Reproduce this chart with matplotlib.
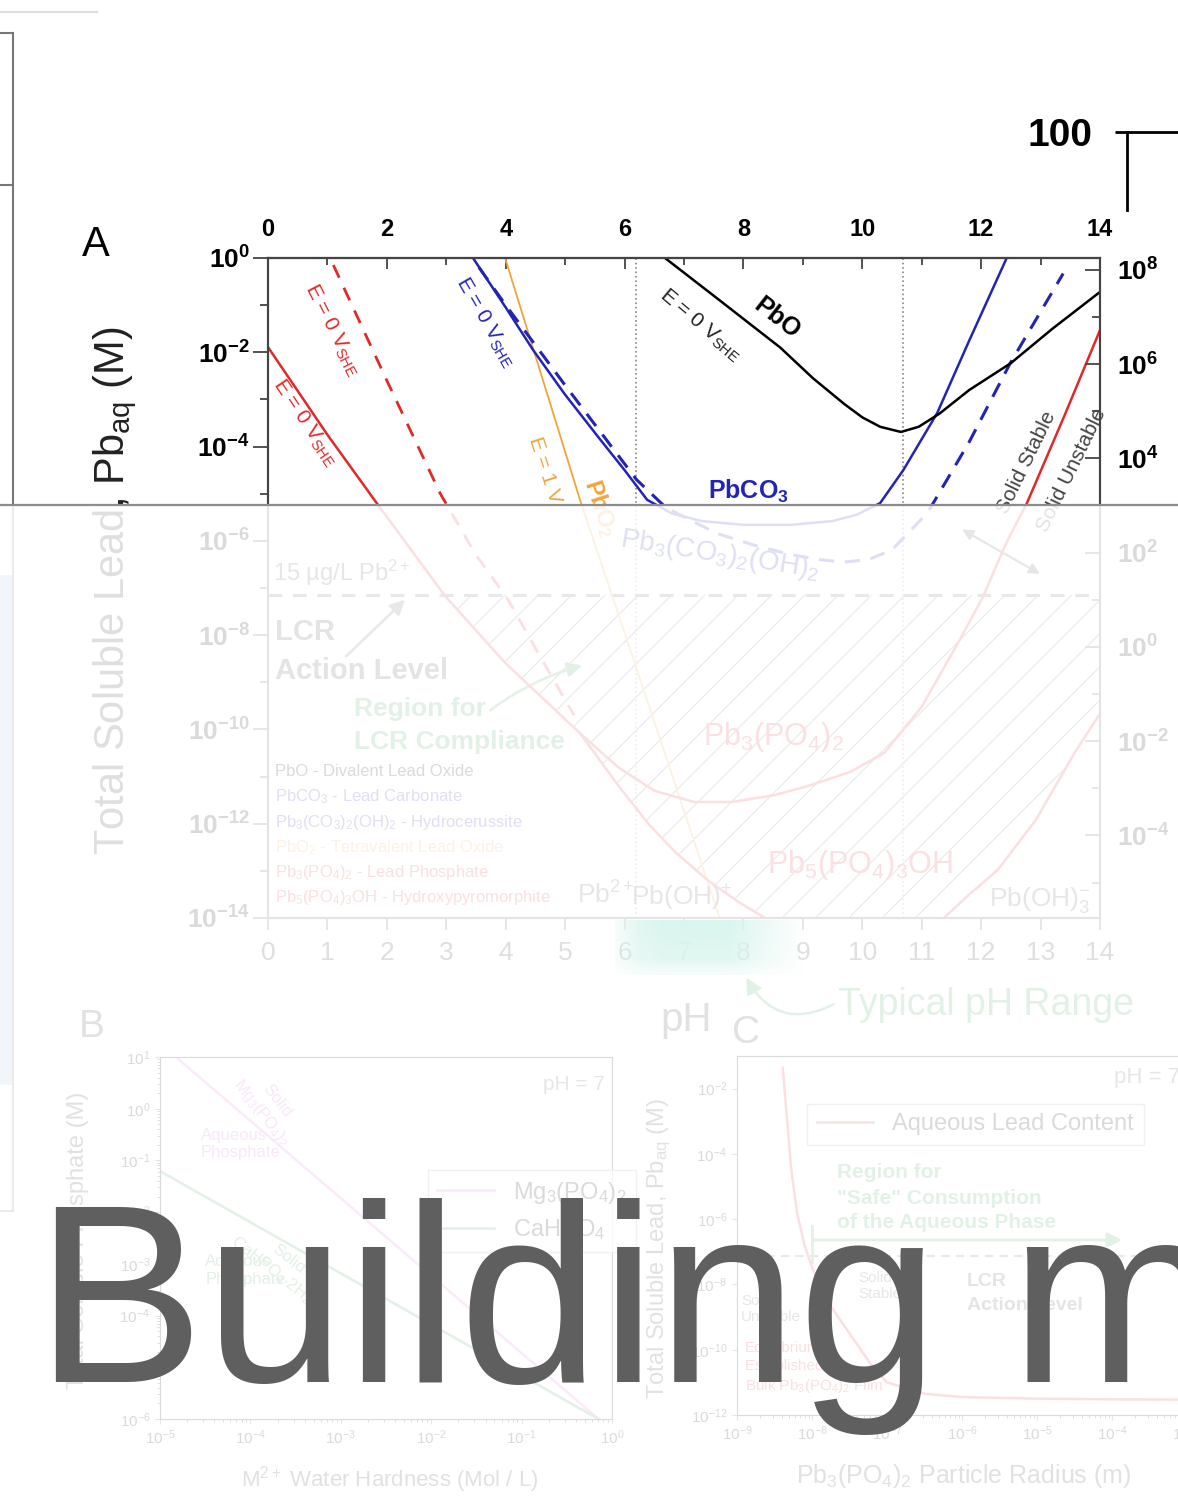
import numpy as np
import matplotlib
matplotlib.use("Agg")
import matplotlib.pyplot as plt
from matplotlib.ticker import FixedLocator, FuncFormatter, NullFormatter
from matplotlib.patches import Rectangle, FancyArrowPatch
from matplotlib.lines import Line2D

plt.rcParams['font.family'] = ['Liberation Sans', 'DejaVu Sans']
plt.rcParams['mathtext.fontset'] = 'custom'
plt.rcParams['mathtext.rm'] = 'Liberation Sans'
plt.rcParams['mathtext.it'] = 'Liberation Sans:italic'
plt.rcParams['mathtext.bf'] = 'Liberation Sans:bold'
plt.rcParams['hatch.linewidth'] = 0.9

W, H = 1178, 1497

# ---- panel A: total soluble lead (log10 M) against pH ----
pbo_ph = [6.68, 7.5, 8.62, 9.17, 9.7, 10.0, 10.3, 10.65, 10.95, 11.3, 11.8, 12.5, 13.2, 14.0]
pbo_log = [0.0, -0.8, -1.9, -2.55, -3.1, -3.38, -3.58, -3.69, -3.58, -3.3, -2.8, -2.23, -1.5, -0.72]

pbco3_ph = [3.45, 4.0, 4.46, 5.0, 5.59, 6.0, 6.38, 6.8, 7.3, 8.0, 8.8, 9.5, 9.9, 10.3, 10.69, 11.26, 11.8, 12.43]
pbco3_log = [0.0, -1.05, -1.95, -2.9, -3.85, -4.5, -5.13, -5.42, -5.58, -5.66, -5.66, -5.58, -5.45, -5.2, -4.5, -3.29, -1.75, 0.0]

hydro_ph = [3.55, 4.0, 4.5, 5.0, 5.6, 6.2, 6.7, 7.55, 8.2, 8.83, 9.3, 9.68, 10.1, 10.5, 11.1, 11.8, 12.49, 13.38]
hydro_log = [-0.2, -1.0, -1.85, -2.7, -3.7, -4.7, -5.3, -5.84, -6.1, -6.3, -6.4, -6.45, -6.4, -6.19, -5.4, -3.9, -2.23, -0.33]

pb3po4_ph = [0.0, 1.0, 1.83, 2.98, 4.0, 5.25, 5.89, 6.5, 7.17, 7.8, 8.5, 9.09, 9.8, 10.37, 11.0, 11.64, 12.03, 12.42, 12.77, 13.4, 14.0]
pb3po4_log = [-1.89, -3.75, -5.2, -7.17, -8.6, -10.08, -10.8, -11.3, -11.54, -11.54, -11.4, -11.2, -10.9, -10.5, -9.52, -8.1, -7.19, -6.05, -5.2, -3.35, -1.53]

pb3po4_e0_ph = [1.1, 2.0, 2.9, 3.5, 4.04, 4.6, 5.15]
pb3po4_e0_log = [-0.15, -2.6, -5.0, -6.3, -7.25, -8.5, -9.7]

pbo2_ph = [3.99, 5.25, 6.04, 7.6]
pbo2_log = [0.0, -5.13, -8.1, -14.0]

hpm_lo_ph = [5.25, 5.9, 6.4, 6.85, 7.4, 7.94, 8.5]
hpm_lo_log = [-10.08, -11.2, -12.0, -12.6, -13.2, -13.68, -14.1]
hpm_hi_ph = [11.2, 11.8, 12.28, 12.92, 13.57, 14.0]
hpm_hi_log = [-14.2, -13.5, -12.98, -11.92, -10.5, -9.66]

species_bounds = [6.2, 10.69]          # Pb2+/Pb(OH)+ and Pb(OH)+/Pb(OH)3- boundaries
lcr_level = 15e-6 / 207.2              # 15 ug/L as mol/L

legend_lines = [
    ('PbO - Divalent Lead Oxide', 'black'),
    (r'PbCO$_3$ - Lead Carbonate', '#2424b4'),
    (r'Pb$_3$(CO$_3$)$_2$(OH)$_2$ - Hydrocerussite', '#2424b4'),
    (r'PbO$_2$ - Tetravalent Lead Oxide', '#f0a43a'),
    (r'Pb$_3$(PO$_4$)$_2$ - Lead Phosphate', '#e02a2a'),
    (r'Pb$_5$(PO$_4$)$_3$OH - Hydroxypyromorphite', '#e02a2a'),
]

# ---- panel B: phosphate vs water hardness ----
hard_mg = [1.5e-5, 0.71]
phos_mg = [10.0, 1e-6]
hard_ca = [1e-5, 0.71]
phos_ca = [0.062, 1e-6]

# ---- panel C: soluble lead vs particle radius ----
radius_log = [-8.39, -8.33, -8.28, -8.2, -8.1, -8.0, -7.8, -7.5, -7.2, -7.0, -6.5, -6.0, -5.0, -4.0, -3.0]
lead_c_log = [-1.36, -3.0, -4.4, -5.8, -6.8, -7.47, -8.5, -9.5, -10.5, -11.0, -11.35, -11.45, -11.5, -11.52, -11.53]

RED = '#e02a2a'
BLUE = '#2424b4'
ORANGE = '#f0a43a'
GREEN = '#36a355'
DARK = '#444444'


def fbox(x0, y0, x1, y1):
    return [x0 / W, 1 - y1 / H, (x1 - x0) / W, (y1 - y0) / H]


def ftext(x, y, s, **kw):
    return fig.text(x / W, 1 - y / H, s, **kw)


def p10(vals):
    return 10.0 ** np.asarray(vals)


def bold_pow(v, pos):
    return r'$\mathbf{10^{%d}}$' % int(round(np.log10(v)))


fig = plt.figure(figsize=(W / 100, H / 100), dpi=100)

# ---------- panel A ----------
ax = fig.add_axes(fbox(268, 258, 1100, 918))
ax.set_xlim(0, 14)
ax.set_yscale('log')
ax.set_ylim(1e-14, 1)

for b in species_bounds:
    ax.axvline(b, color='#888888', ls=':', lw=1.2, zorder=1)

# hatched compliance region below the action level
poly_ph = [p for p in pb3po4_ph if 2.98 <= p <= 5.25] + hpm_lo_ph[1:] + hpm_hi_ph + [14.0, 2.98]
poly_log = ([l for p, l in zip(pb3po4_ph, pb3po4_log) if 2.98 <= p <= 5.25]
            + hpm_lo_log[1:] + hpm_hi_log + [np.log10(lcr_level)] * 2)
ax.fill(poly_ph, p10(poly_log), facecolor='none', edgecolor='#7a7a7a', hatch='/', lw=0, zorder=1)

ax.axhline(lcr_level, color='#666666', ls=(0, (4.5, 3.5)), lw=2.2, zorder=2)

ax.plot(pbo2_ph, p10(pbo2_log), color=ORANGE, lw=1.3, zorder=3)
ax.plot(pb3po4_e0_ph, p10(pb3po4_e0_log), color=RED, lw=2.0, ls=(0, (5, 4)), zorder=3)
ax.plot(pb3po4_ph, p10(pb3po4_log), color=RED, lw=1.8, zorder=4)
ax.plot(hpm_lo_ph, p10(hpm_lo_log), color=RED, lw=1.8, zorder=4)
ax.plot(hpm_hi_ph, p10(hpm_hi_log), color=RED, lw=1.8, zorder=4)
ax.plot(hydro_ph, p10(hydro_log), color=BLUE, lw=2.2, ls=(0, (5, 3.5)), zorder=4)
ax.plot(pbco3_ph, p10(pbco3_log), color=BLUE, lw=1.8, zorder=5)
ax.plot(pbo_ph, p10(pbo_log), color='black', lw=1.8, zorder=5)

for s in ax.spines.values():
    s.set_color(DARK)
    s.set_linewidth(1.5)

ax.set_xticks(range(15))
ax.tick_params(axis='x', direction='out', length=8.5, width=1.3, color=DARK,
               labelsize=19, labelcolor='#222222', pad=8)
ax.yaxis.set_major_locator(FixedLocator([10.0 ** k for k in range(-14, 1, 2)]))
ax.yaxis.set_minor_locator(FixedLocator([10.0 ** k for k in range(-13, 0, 2)]))
ax.yaxis.set_major_formatter(FuncFormatter(bold_pow))
ax.yaxis.set_minor_formatter(NullFormatter())
ax.tick_params(axis='y', which='major', direction='out', length=11, width=1.3, color=DARK,
               labelsize=19, pad=2)
ax.tick_params(axis='y', which='minor', direction='out', length=6, width=1.3, color=DARK)

top = ax.secondary_xaxis('top')
top.set_xticks(range(0, 15, 2))
top.xaxis.set_minor_locator(FixedLocator(range(1, 14, 2)))
top.tick_params(axis='x', which='major', direction='in', length=8, width=1.3, color=DARK,
                labelsize=17, pad=12)
top.tick_params(axis='x', which='minor', direction='in', length=5, width=1.3, color=DARK)
for t in top.get_xticklabels():
    t.set_fontweight('bold')
top.spines['top'].set_color(DARK)
top.spines['top'].set_linewidth(1.5)

rax = ax.twinx()
rax.set_yscale('log')
rax.set_ylim(10 ** -5.75, 10 ** 8.25)
rax.yaxis.set_major_locator(FixedLocator([10.0 ** k for k in range(-4, 9, 2)]))
rax.yaxis.set_minor_locator(FixedLocator([10.0 ** k for k in range(-5, 8, 2)]))
rax.yaxis.set_major_formatter(FuncFormatter(bold_pow))
rax.yaxis.set_minor_formatter(NullFormatter())
rax.tick_params(axis='y', which='major', direction='in', length=11, width=1.3, color=DARK,
                labelsize=19, pad=12)
rax.tick_params(axis='y', which='minor', direction='in', length=6, width=1.3, color=DARK)
for s in rax.spines.values():
    s.set_color(DARK)
    s.set_linewidth(1.5)

# line labels
lab = dict(ha='center', va='center', rotation_mode='anchor')
ax.text(0.62, 10 ** -3.5, r'E = 0 V$_{\rm SHE}$', color=RED, fontsize=15, rotation=-56, **lab)
ax.text(1.09, 10 ** -1.53, r'E = 0 V$_{\rm SHE}$', color=RED, fontsize=15, rotation=-63, **lab)
ax.text(3.65, 10 ** -1.36, r'E = 0 V$_{\rm SHE}$', color=BLUE, fontsize=15, rotation=-60, **lab)
ax.text(4.66, 10 ** -4.5, 'E = 1 V', color=ORANGE, fontsize=15, rotation=-72, **lab)
ax.text(5.6, 10 ** -5.3, r'$\mathbf{PbO_2}$', color=ORANGE, fontsize=17, rotation=-72, **lab)
ax.text(7.27, 10 ** -1.42, r'E = 0 V$_{\rm SHE}$', color='#222222', fontsize=15, rotation=-40, **lab)
ax.text(8.56, 10 ** -1.27, 'PbO', color='black', fontsize=18, fontweight='bold', rotation=-38, **lab)
ax.text(8.08, 10 ** -4.96, r'$\mathbf{PbCO_3}$', color=BLUE, fontsize=18, **lab)
ax.text(12.77, 10 ** -4.33, 'Solid Stable', color='#444444', fontsize=15, rotation=64, **lab)
ax.text(13.53, 10 ** -4.5, 'Solid Unstable', color='#444444', fontsize=15, rotation=64, **lab)
ax.annotate('', xy=(11.64, 10 ** -5.73), xytext=(13.03, 10 ** -6.73),
            arrowprops=dict(arrowstyle='<|-|>', color='#555555', lw=1.5, mutation_scale=16))
ax.text(7.61, 10 ** -6.3, r'Pb$_3$(CO$_3$)$_2$(OH)$_2$', color=BLUE, fontsize=20, rotation=-9, **lab)
ax.text(0.08, 10 ** -7.0, r'15 µg/L Pb$^{2+}$', color='#555555', fontsize=17, ha='left', va='bottom')
ax.text(0.12, 10 ** -7.93, 'LCR', color=DARK, fontsize=21, fontweight='bold', ha='left', va='center')
ax.text(0.12, 10 ** -8.76, 'Action Level', color=DARK, fontsize=21, fontweight='bold', ha='left', va='center')
ax.annotate('', xy=(2.34, 10 ** -7.21), xytext=(1.28, 10 ** -8.49),
            arrowprops=dict(arrowstyle='-|>', color='#666666', lw=1.8, mutation_scale=22))
ax.text(1.45, 10 ** -9.57, 'Region for', color=GREEN, fontsize=19, fontweight='bold', ha='left', va='center')
ax.text(1.45, 10 ** -10.27, 'LCR Compliance', color=GREEN, fontsize=19, fontweight='bold', ha='left', va='center')
ax.annotate('', xy=(5.33, 10 ** -8.63), xytext=(3.70, 10 ** -9.63),
            arrowprops=dict(arrowstyle='-|>', color=GREEN, lw=1.8, mutation_scale=22,
                            connectionstyle='arc3,rad=-0.1'))
for i, (txt, col) in enumerate(legend_lines):
    ax.text(0.12, 10 ** (-10.9 - 0.535 * i), txt, color=col, fontsize=12, ha='left', va='center')
ax.text(5.69, 10 ** -13.51, r'Pb$^{2+}$', color='#555555', fontsize=19, **lab)
ax.text(6.97, 10 ** -13.58, r'Pb(OH)$^{+}$', color='#555555', fontsize=19, **lab)
ax.text(12.99, 10 ** -13.62, r'Pb(OH)$_3^{-}$', color='#555555', fontsize=19, **lab)
ax.text(8.51, 10 ** -10.16, r'Pb$_3$(PO$_4$)$_2$', color=RED, fontsize=22, **lab)
ax.text(9.96, 10 ** -12.88, r'Pb$_5$(PO$_4$)$_3$OH', color=RED, fontsize=22, **lab)

# typical drinking-water pH band under the axis
band = fig.add_axes(fbox(615, 920, 805, 975))
band.set_axis_off()
gx = np.linspace(0, 1, 200)
gy = np.linspace(0, 1, 60)
ax_prof = np.interp(gx, [0, 0.12, 0.25, 0.6, 0.8, 1.0], [0.2, 0.8, 1, 1, 0.5, 0])
ay_prof = np.interp(gy, [0, 0.7, 1.0], [1, 0.8, 0.2])
rgba = np.zeros((60, 200, 4))
rgba[..., 0], rgba[..., 1], rgba[..., 2] = 0.0, 0.72, 0.55
rgba[..., 3] = np.outer(ay_prof, ax_prof)
band.imshow(rgba, aspect='auto', extent=(0, 1, 0, 1))

ftext(115, 591, r'Total Soluble Lead, Pb$_{\rm aq}$ (M)', fontsize=30, rotation=90,
      ha='center', va='center', color='#222222')
ftext(96, 245, 'A', fontsize=30, ha='center', va='center', color='black')
ftext(686, 1020, 'pH', fontsize=29, ha='center', va='center', color='#333333')
ftext(838, 1005, 'Typical pH Range', fontsize=27, ha='left', va='center', color=GREEN)
fig.add_artist(FancyArrowPatch((836 / W, 1 - 1003 / H), (745 / W, 1 - 975 / H),
                               transform=fig.transFigure, arrowstyle='-|>', mutation_scale=24,
                               color=GREEN, lw=1.8, connectionstyle='arc3,rad=-0.5'))

# ---------- panel B ----------
axB = fig.add_axes(fbox(160, 1057, 612, 1419))
axB.set_xscale('log')
axB.set_yscale('log')
axB.set_xlim(1e-5, 1)
axB.set_ylim(1e-6, 10)
axB.plot(hard_mg, phos_mg, color='#e070e0', lw=1.8, label=r'Mg$_3$(PO$_4$)$_2$')
axB.plot(hard_ca, phos_ca, color='#3a9a50', lw=1.8, label=r'CaHPO$_4$')
axB.tick_params(labelsize=11, color='#555555')
axB.legend(loc='upper left', bbox_to_anchor=(0.566, 0.72), fontsize=17, frameon=True,
           fancybox=False, edgecolor='#888888', handlelength=2.4)
axB.text(0.985, 0.95, 'pH = 7', transform=axB.transAxes, ha='right', va='top', fontsize=15, color='#555555')
axB.text(0.24, 0.86, r'Solid' + '\n' + r'Mg$_3$(PO$_4$)$_2$', transform=axB.transAxes, color='#d060d0',
         fontsize=12, rotation=-52, ha='center', va='center')
axB.text(0.09, 0.76, 'Aqueous\nPhosphate', transform=axB.transAxes, color='#d060d0', fontsize=12,
         ha='left', va='center')
axB.text(0.27, 0.42, r'Solid' + '\n' + r'CaHPO$_4$$\cdot$2H$_2$O', transform=axB.transAxes,
         color='#3a9a50', fontsize=12, rotation=-38, ha='center', va='center')
axB.text(0.1, 0.41, 'Aqueous\nPhosphate', transform=axB.transAxes, color='#3a9a50', fontsize=12,
         ha='left', va='center')
ftext(92, 1027, 'B', fontsize=28, ha='center', va='center', color='#333333')
ftext(78, 1240, 'Total Soluble Phosphate (M)', fontsize=17, rotation=90, ha='center', va='center',
      color='#333333')
ftext(390, 1480, r'M$^{2+}$ Water Hardness (Mol / L)', fontsize=16, ha='center', va='center',
      color='#333333')

# ---------- panel C ----------
axC = fig.add_axes(fbox(737, 1056, 1187, 1415))
axC.set_xscale('log')
axC.set_yscale('log')
axC.set_xlim(1e-9, 1e-3)
axC.set_ylim(1e-12, 1e-1)
axC.plot(p10(radius_log), p10(lead_c_log), color=RED, lw=1.8, label='Aqueous Lead Content')
axC.axhline(lcr_level, color='#666666', ls=(0, (4, 3)), lw=1.5)
axC.yaxis.set_major_locator(FixedLocator([10.0 ** k for k in range(-12, -1, 2)]))
axC.tick_params(labelsize=11, color='#555555')
axC.legend(loc='upper left', bbox_to_anchor=(0.13, 0.9), fontsize=17, frameon=True,
           fancybox=False, edgecolor='#888888', handlelength=2.4)
axC.text(0.985, 0.97, 'pH = 7', transform=axC.transAxes, ha='right', va='top', fontsize=16, color='#555555')
ftext(837, 1173, 'Region for', fontsize=15, fontweight='bold', color=GREEN, ha='left', va='center')
ftext(837, 1198, '"Safe" Consumption', fontsize=15, fontweight='bold', color=GREEN, ha='left', va='center')
ftext(837, 1223, 'of the Aqueous Phase', fontsize=15, fontweight='bold', color=GREEN, ha='left', va='center')
fig.add_artist(FancyArrowPatch((812 / W, 1 - 1240 / H), (1125 / W, 1 - 1240 / H),
                               transform=fig.transFigure, arrowstyle='-|>', mutation_scale=22,
                               color=GREEN, lw=2))
fig.add_artist(Line2D([812 / W, 812 / W], [1 - 1226 / H, 1 - 1262 / H], transform=fig.transFigure,
                      color=GREEN, lw=2))
ftext(967, 1281, 'LCR', fontsize=14, fontweight='bold', color=DARK, ha='left', va='center')
ftext(967, 1305, 'Action Level', fontsize=14, fontweight='bold', color=DARK, ha='left', va='center')
ftext(858, 1286, 'Solid\nStable', fontsize=11, color='#555555', ha='left', va='center')
ftext(741, 1309, 'Solid\nUnstable', fontsize=11, color='#555555', ha='left', va='center')
ftext(745, 1368, 'Equilibrium\nEstablished by\n' + r'Bulk Pb$_3$(PO$_4$)$_2$ Film', fontsize=11,
      color=RED, ha='left', va='center', linespacing=1.3)
ftext(746, 1033, 'C', fontsize=28, ha='center', va='center', color='#333333')
ftext(659, 1249, r'Total Soluble Lead, Pb$_{\rm aq}$ (M)', fontsize=17, rotation=90, ha='center',
      va='center', color='#333333')
ftext(964, 1476, r'Pb$_3$(PO$_4$)$_2$ Particle Radius (m)', fontsize=18, ha='center', va='center',
      color='#333333')

# ---------- neighbouring figure edges ----------
corner = fig.add_axes(fbox(1127, 132, 1400, 210))
corner.set_ylim(80, 100)
corner.set_xticks([])
corner.set_yticks([100])
corner.set_yticklabels(['100'], fontsize=28, fontweight='bold')
corner.tick_params(axis='y', direction='out', length=9, width=2, pad=16)
corner.spines['right'].set_visible(False)
corner.spines['bottom'].set_visible(False)
corner.spines['left'].set_linewidth(2)
corner.spines['top'].set_linewidth(2)

edge = dict(transform=fig.transFigure, color='#777777', lw=1.5)
fig.add_artist(Line2D([13 / W, 13 / W], [1 - 33 / H, 1 - 1211 / H], **edge))
for yy in (33, 185, 1211):
    fig.add_artist(Line2D([0, 13 / W], [1 - yy / H, 1 - yy / H], **edge))
fig.add_artist(Line2D([0, 97 / W], [1 - 12 / H, 1 - 12 / H], transform=fig.transFigure,
                      color='#dddddd', lw=1.5))
fig.add_artist(Rectangle((0, 1 - 1085 / H), 12 / W, 510 / H, transform=fig.transFigure,
                         facecolor='#9cc4e0', edgecolor='none'))

# ---------- loading veil ----------
fig.add_artist(Rectangle((0, 0), 1, 1 - 505 / H, transform=fig.transFigure,
                         facecolor='white', alpha=0.86, edgecolor='none', zorder=100))
fig.add_artist(Line2D([0, 1], [1 - 505 / H, 1 - 505 / H], transform=fig.transFigure,
                      color='#8c8c8c', lw=1.6, zorder=101))
ftext(35, 1382, 'Building m', fontsize=183, color='#5f5f5f', ha='left', va='baseline',
      family='Liberation Sans', zorder=102)

fig.savefig('out.png', dpi=100)
